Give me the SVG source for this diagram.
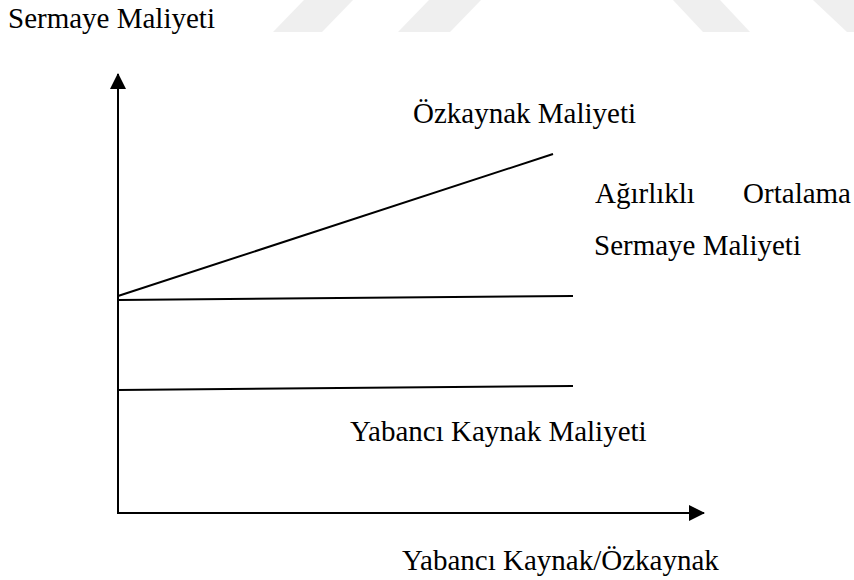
<svg xmlns="http://www.w3.org/2000/svg" width="854" height="580" viewBox="0 0 854 580">
<style>
.t{font-family:"Liberation Serif","Times New Roman",serif;font-size:29px;fill:#000}
.ln{stroke:#000;stroke-width:2;fill:none}
.wm{fill:#efefef}
</style>
<defs>
<marker id="ah" markerWidth="16" markerHeight="16" refX="15" refY="8" orient="auto" markerUnits="userSpaceOnUse">
<path d="M0,0 L16,8 L0,16 Z" fill="#000"/>
</marker>
</defs>
<rect width="854" height="580" fill="#fff"/>
<g id="watermark">
<polygon class="wm" points="273,32 322,32 353,0 304,0"/>
<polygon class="wm" points="398,32 450,32 481,0 429,0"/>
<polygon class="wm" points="673,0 720,0 750,32 703,32"/>
<polygon class="wm" points="813,0 854,0 854,32 847,32"/>
</g>
<g id="connectors">
<line class="ln" x1="118" y1="514" x2="118" y2="74" marker-end="url(#ah)"/>
<line class="ln" x1="117" y1="513" x2="704" y2="513" marker-end="url(#ah)"/>
<line class="ln" x1="118" y1="296" x2="553" y2="154"/>
<line class="ln" x1="118" y1="300" x2="573" y2="296"/>
<line class="ln" x1="118" y1="390" x2="573" y2="386"/>
</g>
<g id="y-axis-label"><text class="t" x="8" y="28">Sermaye Maliyeti</text></g>
<g id="ozkaynak-label"><text class="t" x="413" y="123">Özkaynak Maliyeti</text></g>
<g id="aosm-label">
<text class="t" x="595" y="203">Ağırlıklı</text>
<text class="t" x="851" y="203" text-anchor="end">Ortalama</text>
<text class="t" x="594" y="255">Sermaye Maliyeti</text>
</g>
<g id="yabanci-label"><text class="t" x="350" y="441">Yabancı Kaynak Maliyeti</text></g>
<g id="x-axis-label"><text class="t" x="402" y="570">Yabancı Kaynak/Özkaynak</text></g>
</svg>
